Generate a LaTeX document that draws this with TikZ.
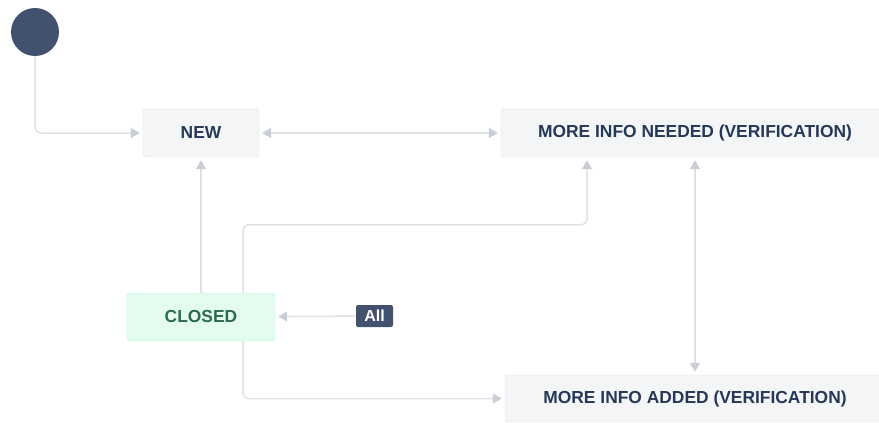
\documentclass[tikz,border=0pt]{standalone}
\usepackage{fontspec}
\setmainfont{Liberation Sans}
\usepackage{tikz}
\usetikzlibrary{positioning, calc, arrows.meta}

\definecolor{boxgray}{HTML}{F4F5F7}
\definecolor{boxline}{HTML}{DFE1E6}
\definecolor{linegray}{HTML}{DFE1E6}
\definecolor{tipgray}{HTML}{C8CDD6}
\definecolor{navy}{HTML}{253858}
\definecolor{slate}{HTML}{42526E}
\definecolor{closedfill}{HTML}{E3FCEF}
\definecolor{closedline}{HTML}{ABF5D1}
\definecolor{closedtext}{HTML}{2D6A4F}

\begin{document}
\begin{tikzpicture}[x=1pt, y=-1pt, >={Triangle[length=9pt, width=10pt, color=tipgray]}]
        % Define block styles
        \tikzstyle{block} = [rectangle, draw=boxline, fill=boxgray, text=navy, font=\fontsize{17.4}{19}\selectfont\bfseries, rounded corners=3pt, minimum height=48pt, inner sep=0pt]
        \tikzstyle{line} = [draw=linegray, line width=1.5pt, rounded corners=6pt, shorten >=3pt]

        % Picture frame
        \clip (0,0) rectangle (879,423);

        % Place nodes
        \node [circle, fill=slate, minimum size=48pt, inner sep=0pt] (start) at (35,32) {};
        \node [block, minimum width=116pt] (new) at (201,133) {NEW};
        \node [block, minimum width=388pt] (more_info_needed) at (695,133) {MORE INFO NEEDED (VERIFICATION)};
        \node [block, fill=closedfill, draw=closedline, text=closedtext, minimum width=148pt] (closed) at (201,317) {CLOSED};
        \node [block, minimum width=380pt, minimum height=47pt] (more_info_added) at (695,398.5) {MORE INFO ADDED (VERIFICATION)};
        \node [rectangle, fill=slate, text=white, font=\fontsize{16}{18}\selectfont\bfseries, rounded corners=2pt, minimum width=37pt, minimum height=22pt, inner sep=0pt] (all) at (374.5,316) {All};

        % Draw connections as arrows
        \draw [line, ->] (start.south) |- (new.west);
        \draw [line, <->, shorten <=3pt] (new) -- (more_info_needed);
        \draw [line, ->] (closed) -- (new);
        \draw [line, ->] ([xshift=42pt]closed.north) -- ++(0,-68) -| ([xshift=-108pt]more_info_needed.south);
        \draw [line, <->, shorten <=3pt] (more_info_needed) -- (more_info_added);
        \draw [line, ->] (all) -- (closed);
        \draw [line, ->] ([xshift=42pt]closed.south) |- (more_info_added.west);
    \end{tikzpicture}
\end{document}
